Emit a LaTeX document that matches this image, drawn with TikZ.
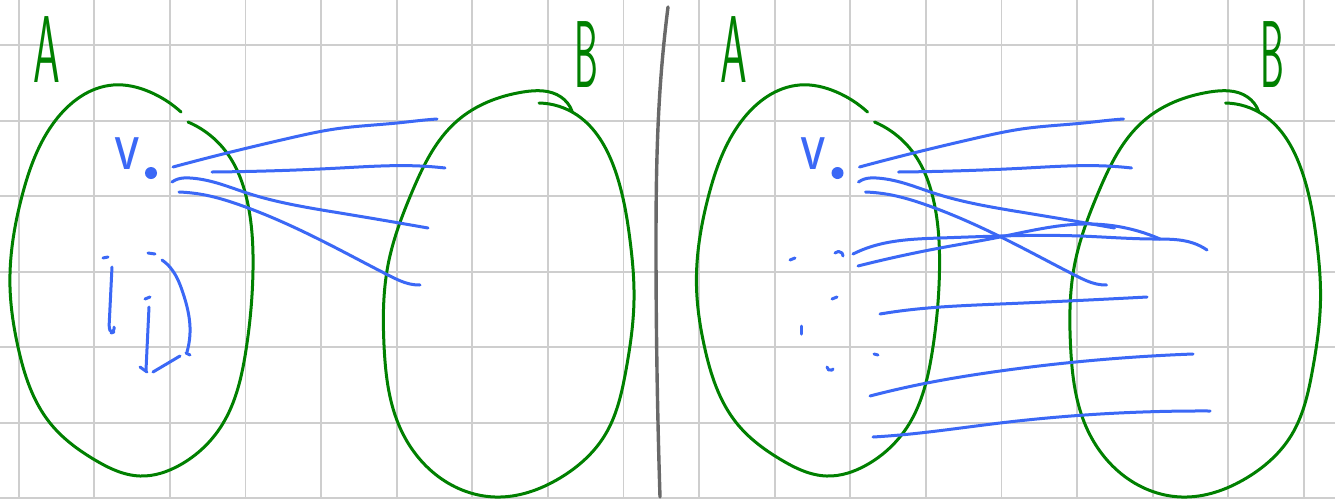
\documentclass[tikz,border=0pt]{standalone}
\usepackage{tikz}
\usetikzlibrary{hobby}
\definecolor{inkgreen}{RGB}{0,128,0}
\definecolor{inkblue}{RGB}{59,104,246}
\definecolor{gridgray}{RGB}{206,206,206}
\definecolor{pengray}{RGB}{105,105,105}

\begin{document}
\begin{tikzpicture}[
  x=1pt, y=-1pt,
  gridline/.style = {draw=gridgray, line width=1.8pt},
  setline/.style  = {draw=inkgreen, line width=3pt, line cap=round, line join=round, use Hobby shortcut},
  edgeline/.style = {draw=inkblue, line width=3pt, line cap=round, line join=round, use Hobby shortcut},
  divider/.style  = {draw=pengray, line width=3.4pt, line cap=round, use Hobby shortcut},
  setname/.style  = {text=inkgreen, font=\sffamily\fontsize{95}{95}\selectfont, inner sep=0pt},
  vname/.style    = {text=inkblue, font=\sffamily\fontsize{74}{74}\selectfont, inner sep=0pt, xscale=0.8},
  vdot/.style     = {circle, fill=inkblue, inner sep=0pt, minimum size=12pt},
]
\useasboundingbox[fill=white] (0,0) rectangle (1335,499);
\foreach \i in {0,...,17}
  \draw[gridline] ({18.7+75.6*\i},0) -- ({18.7+75.6*\i},499);
\foreach \j in {0,...,6}
  \draw[gridline] (0,{45.1+75.5*\j}) -- (1335,{45.1+75.5*\j});

\foreach \dx/\s in {0/l, 686.5/r}{
  \begin{scope}[xshift=\dx]
    \draw[setline] (188,122) .. (227,153) .. (247,200) .. (253,270) .. (246,350) .. (222,425)
      .. (180,465) .. (140,476) .. (95,460) .. (50,423) .. (18,347) .. (10,287) .. (22,196)
      .. (55,121) .. (113,85) .. (150,92) .. (181,112);
    \draw[setline] (539,103) .. (577,115) .. (615,170) .. (630,240) .. (634,300) .. (626,370)
      .. (605,435) .. (560,478) .. (495,497) .. (435,474) .. (398,423) .. (384,345) .. (388,265)
      .. (412,192) .. (457,121) .. (523,92) .. (561,97) .. (572,111);
    \node[setname, xscale=0.45] (A\s) at (47,50) {A};
    \node[setname, xscale=0.4]  (B\s) at (586,55) {B};
    \node[vdot]  (dot\s) at (151,173) {};
    \node[vname] (v\s)   at (127,154) {v};
    \draw[edgeline] (173,167) .. (227,153) .. (290,138) .. (335,129) .. (397,123) .. (425,120) .. (437,119);
    \draw[edgeline] (212,172) .. (340,168) .. (420,166) .. (445,168);
    \draw[edgeline] (172,182) .. (178,179) .. (190,178) .. (217,183) .. (247,193) .. (340,213) .. (428,228);
    \draw[edgeline] (179,192) .. (205,195) .. (240,205) .. (340,250) .. (390,276) .. (410,284) .. (420,285);
  \end{scope}
}

\draw[divider] (668,7) .. (660,90) .. (656,250) .. (660,497);

\draw[edgeline] (103,258) -- (108,257);
\draw[edgeline, rounded corners=3pt] (112,267) -- (109,328) -- (111,333) -- (114,332) -- (114,327);
\draw[edgeline] (148,253) -- (155,254);
\draw[edgeline] (162,260) .. (168,265) .. (183,293) .. (190,327) .. (187,352);
\draw[edgeline] (186,353) -- (190,355);
\draw[edgeline] (145,299) -- (150,297);
\draw[edgeline] (149,307) -- (146,370);
\draw[edgeline] (140,367) -- (147,372);
\draw[edgeline] (153,372) -- (180,356);

\draw[edgeline] (853,254) .. (870,247) .. (940,238) .. (1000,236) .. (1080,236) .. (1153,239) .. (1193,243) .. (1207,250);
\draw[edgeline] (858,266) .. (940,248) .. (1000,237) .. (1083,224) .. (1115,226) .. (1160,239);
\draw[edgeline] (880,314) .. (900,311) .. (1000,304) .. (1147,297);
\draw[edgeline] (870,396) .. (927,383) .. (993,372) .. (1193,354);
\draw[edgeline] (873,437) .. (900,435) .. (1000,423) .. (1210,411);
\draw[edgeline] (790,260) -- (795,258);
\draw[edgeline] (835,253) .. (842,253) .. (843,256);
\draw[edgeline] (832,299) -- (837,297);
\draw[edgeline] (801,326) -- (801,334);
\draw[edgeline] (874,354) -- (878,355);
\draw[edgeline] (827,367) .. (832,370) .. (833,369);
\end{tikzpicture}
\end{document}
